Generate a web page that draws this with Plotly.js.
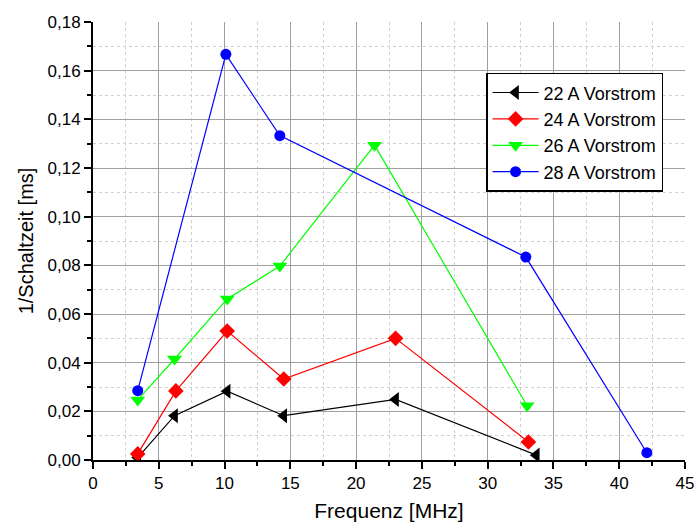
<!DOCTYPE html>
<html>
<head>
<meta charset="utf-8">
<script src="https://cdn.plot.ly/plotly-3.0.1.min.js"></script>
<style>html,body{margin:0;padding:0;background:#fff;}#chart{width:696px;height:527px;}</style>
</head>
<body>
<div id="chart"></div>
<script>
const seriesNames = ["22 A Vorstrom", "24 A Vorstrom", "26 A Vorstrom", "28 A Vorstrom"];
const x22 = [3.4, 6.2, 10.2, 14.5, 23.0, 33.7];
const y22 = [0.001, 0.0182, 0.0283, 0.0182, 0.0249, 0.002];
const x24 = [3.4, 6.3, 10.2, 14.5, 23.0, 33.1];
const y24 = [0.0025, 0.0284, 0.0530, 0.0333, 0.0500, 0.0074];
const x26 = [3.4, 6.2, 10.2, 14.2, 21.4, 33.0];
const y26 = [0.0247, 0.0415, 0.0662, 0.0797, 0.1294, 0.0223];
const x28 = [3.4, 10.1, 14.2, 32.9, 42.1];
const y28 = [0.0285, 0.1667, 0.1333, 0.0834, 0.003];
const xTitle = "Frequenz [MHz]";
const yTitle = "1/Schaltzeit [ms]";

const colors = ["#000000", "#ff0000", "#00ff00", "#0000ff"];
const symbols = ["triangle-left", "diamond", "triangle-down", "circle"];
const sizes = [13, 12, 13, 11];
const xs = [x22, x24, x26, x28];
const ys = [y22, y24, y26, y28];

const traces = seriesNames.map((n, i) => ({
  x: xs[i], y: ys[i], name: n, type: "scatter", mode: "lines+markers",
  line: {color: colors[i], width: 1.2},
  marker: {color: colors[i], symbol: symbols[i], size: sizes[i]}
}));

const layout = {
  width: 696, height: 527,
  margin: {l: 93, r: 11, t: 22, b: 67},
  paper_bgcolor: "#fff", plot_bgcolor: "#fff",
  separators: ",.",
  font: {family: "'Liberation Sans', Arial, sans-serif", color: "#000", size: 17},
  xaxis: {
    range: [0, 45], tick0: 0, dtick: 5, ticks: "outside", ticklen: 7, tickwidth: 2, tickcolor: "#000",
    showline: true, linecolor: "#000", linewidth: 2, zeroline: false,
    showgrid: true, gridcolor: "#a0a0a0", gridwidth: 1,
    minor: {dtick: 2.5, ticks: "outside", ticklen: 4, tickwidth: 2, tickcolor: "#000", showgrid: true, gridcolor: "#d0d0d0", griddash: "dot", gridwidth: 1},
    tickfont: {size: 17},
    title: {text: xTitle, font: {size: 21}, standoff: 11}
  },
  yaxis: {
    range: [0, 0.18], tick0: 0, dtick: 0.02, tickformat: ".2f", ticks: "outside", ticklen: 7, tickwidth: 2, tickcolor: "#000",
    showline: true, linecolor: "#000", linewidth: 2, zeroline: false,
    showgrid: true, gridcolor: "#a0a0a0", gridwidth: 1,
    minor: {dtick: 0.01, ticks: "outside", ticklen: 4, tickwidth: 2, tickcolor: "#000", showgrid: true, gridcolor: "#d0d0d0", griddash: "dot", gridwidth: 1},
    tickfont: {size: 17},
    title: {text: yTitle, font: {size: 20}, standoff: 9}
  },
  legend: {
    x: 0.664, y: 0.884, xanchor: "left", yanchor: "top",
    bgcolor: "#fff", bordercolor: "#000", borderwidth: 1.5,
    font: {size: 18}, tracegroupgap: 0, itemwidth: 46
  },
  showlegend: true
};

Plotly.newPlot("chart", traces, layout, {displayModeBar: false, staticPlot: true});
</script>
</body>
</html>
